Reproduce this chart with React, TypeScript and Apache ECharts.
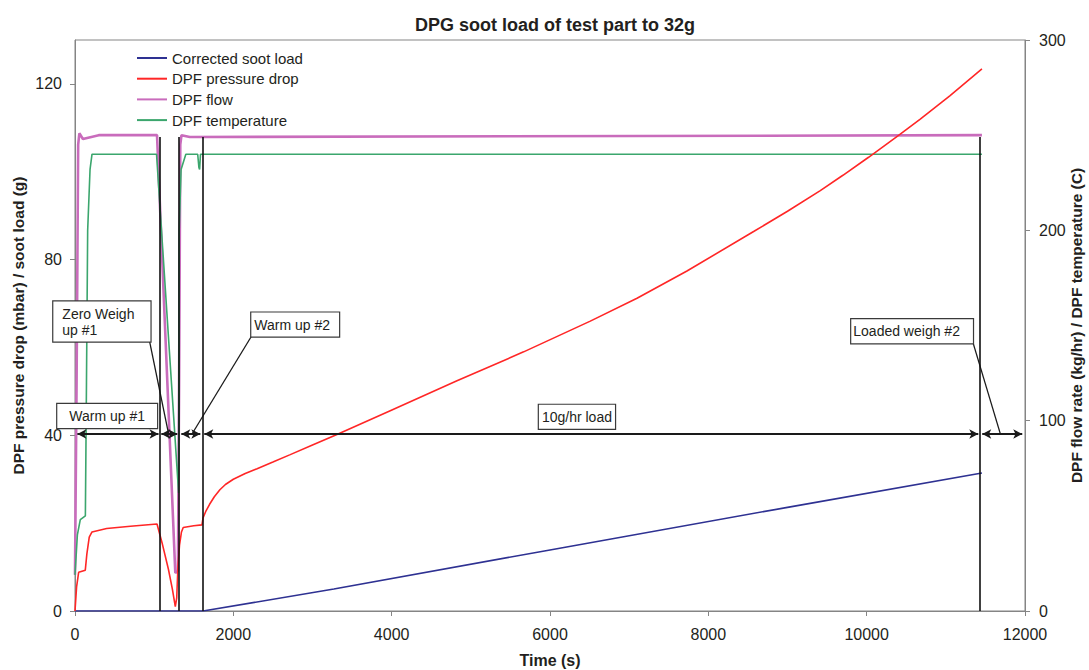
import React, { useEffect, useRef } from "react";
import * as echarts from "echarts";

const chartTitle = "DPG soot load of test part to 32g";
const xAxisName = "Time (s)";
const leftAxisName = "DPF pressure drop (mbar) / soot load (g)";
const rightAxisName = "DPF flow rate (kg/hr) / DPF temperature (C)";
const seriesNames = ["Corrected soot load", "DPF pressure drop", "DPF flow", "DPF temperature"];
const seriesColors = ["#2E3192", "#FF2626", "#C96CBC", "#3BA66D"];

// [time (s), value]
const sootLoad: [number, number][] = [
  [0, 0], [1617, 0], [3270, 5.0], [6000, 13.9], [9000, 23.6], [11456, 31.4],
];
const pressureDrop: [number, number][] = [
  [0, 0], [20, 5.5], [46, 8.8], [130, 9.3], [150, 13], [180, 16.8], [215, 18], [400, 18.8],
  [700, 19.3], [1036, 19.8], [1100, 15.5], [1180, 9.5], [1230, 5], [1267, 1], [1285, 3],
  [1300, 10], [1320, 15], [1345, 18], [1367, 19], [1500, 19.4], [1604, 19.6],
  [1617, 21.2], [1650, 22.6], [1700, 24.3], [1760, 26.0], [1830, 27.6], [1900, 28.8],
  [2000, 30.0], [2150, 31.3], [2300, 32.4], [2500, 33.9], [2719, 35.6], [3000, 37.8],
  [3309, 40.2], [3982, 45.6], [4825, 52.4], [5667, 59.0], [6509, 66.0], [7099, 71.2],
  [7730, 77.4], [8572, 86.4], [9000, 91.0], [9414, 95.7], [9700, 99.2], [10024, 103.3],
  [10403, 108.3], [10677, 112.0], [11050, 117.3], [11456, 123.4],
];
const dpfFlow: [number, number][] = [
  [0, 19], [20, 120], [40, 245], [55, 251], [100, 248], [300, 250], [1036, 250],
  [1267, 20], [1300, 21], [1315, 120], [1330, 245], [1345, 250], [1450, 249], [11456, 250],
];
const dpfTemp: [number, number][] = [
  [0, 19], [30, 40], [67, 48], [131, 50], [145, 120], [160, 200], [190, 232], [215, 240],
  [1030, 240], [1309, 62], [1312, 62], [1316, 200], [1340, 232], [1400, 240], [1550, 240],
  [1565, 233], [1574, 232], [1585, 240], [11456, 240],
];

const xTicks = { min: 0, max: 12000, interval: 2000 };
const leftTicks = { min: 0, max: 130, interval: 40 };
const rightTicks = { min: 0, max: 300, interval: 100 };

// phase boundary markers (time), drawn up to flow level on right axis
const phaseMarkerTimes = [1065, 1311, 1614, 11426];
const phaseMarkerTop = 249;

// double-headed phase arrows on left axis level
const arrowLevel = 40.3;
const phaseArrows: [number, number][] = [
  [30, 1055], [1090, 1292], [1343, 1583], [1633, 11410], [11460, 11965],
];

// annotation boxes: text, centre (time, left-axis value), box width, padding
const annotationTexts = ["Warm up #1", "Zero Weigh\nup #1", "Warm up #2", "10g/hr load", "Loaded weigh #2"];
const annotationAnchors: [number, number][] = [
  [408, 44.4], [339, 65.9], [2783, 65.2], [6340, 44.2], [10576, 63.7],
];
const annotationWidths = [100, 97, 88, 76, 122];
const annotationPadding = [
  [4, 12, 4, 12], [4, 16, 4, 9], [4, 9, 4, 3], [4, 3, 4, 3], [4, 13, 4, 2],
];
const leaderLines: [number, number][][] = [
  [[942, 61.4], [1182, 40.3]],
  [[2227, 62.5], [1478, 40.3]],
  [[11343, 61.1], [11686, 40.5]],
];

const FONT = "'Liberation Sans', Arial, sans-serif";
const TEXT = "#231F20";
const AXIS = "#858585";

export default function App() {
  const ref = useRef<HTMLDivElement>(null);
  useEffect(() => {
    document.body.style.margin = "0";
    const chart = echarts.init(ref.current!, null, { renderer: "svg" });
    const option: any = {
      animation: false,
      textStyle: { fontFamily: FONT },
      title: {
        text: chartTitle,
        left: 550,
        textAlign: "center",
        top: 11,
        textStyle: { fontFamily: FONT, fontSize: 18, fontWeight: "bold", color: TEXT },
      },
      legend: {
        orient: "vertical",
        left: 137,
        top: 50,
        padding: 0,
        itemGap: 4.7,
        itemWidth: 30,
        itemHeight: 2,
        icon: "rect",
        data: seriesNames,
        selectedMode: false,
        textStyle: { fontFamily: FONT, fontSize: 15, lineHeight: 16, color: TEXT },
      },
      grid: {
        left: 75,
        right: 64,
        top: 40,
        bottom: 59,
        show: true,
        borderColor: AXIS,
        borderWidth: 1,
        backgroundColor: "transparent",
        containLabel: false,
        outerBoundsMode: "none",
      },
      xAxis: {
        type: "value",
        ...xTicks,
        name: xAxisName,
        nameLocation: "middle",
        nameGap: 41,
        nameMoveOverlap: false,
        nameTextStyle: { fontFamily: FONT, fontSize: 16, fontWeight: "bold", color: TEXT },
        axisLine: { show: true, onZero: false, lineStyle: { color: AXIS, width: 1 } },
        axisTick: { show: true, length: 5, lineStyle: { color: AXIS } },
        axisLabel: {
          fontFamily: FONT, fontSize: 16, color: TEXT, margin: 15,
          formatter: (v: number) => String(v),
        },
        splitLine: { show: false },
      },
      yAxis: [
        {
          type: "value",
          ...leftTicks,
          position: "left",
          name: leftAxisName,
          nameLocation: "middle",
          nameRotate: 90,
          nameGap: 49,
          nameMoveOverlap: false,
          nameTextStyle: { fontFamily: FONT, fontSize: 15.5, fontWeight: "bold", color: TEXT },
          axisLine: { show: true, lineStyle: { color: AXIS, width: 1 } },
          axisTick: { show: true, length: 5, lineStyle: { color: AXIS } },
          axisLabel: {
            fontFamily: FONT, fontSize: 16, color: TEXT, margin: 13, showMaxLabel: false,
            formatter: (v: number) => String(v),
          },
          splitLine: { show: false },
        },
        {
          type: "value",
          ...rightTicks,
          position: "right",
          name: rightAxisName,
          nameLocation: "middle",
          nameRotate: 90,
          nameGap: 43,
          nameMoveOverlap: false,
          nameTextStyle: { fontFamily: FONT, fontSize: 15.5, fontWeight: "bold", color: TEXT },
          axisLine: { show: true, lineStyle: { color: AXIS, width: 1 } },
          axisTick: { show: true, length: 5, lineStyle: { color: AXIS } },
          axisLabel: {
            fontFamily: FONT, fontSize: 16, color: TEXT, margin: 14,
            formatter: (v: number) => String(v),
          },
          splitLine: { show: false },
        },
      ],
      series: [
        {
          name: seriesNames[0],
          type: "line",
          yAxisIndex: 0,
          data: sootLoad,
          showSymbol: false,
          symbol: "none",
          color: seriesColors[0],
          lineStyle: { color: seriesColors[0], width: 1.6 },
          z: 3,
          silent: true,
          markLine: {
            silent: true,
            symbol: ["arrow", "arrow"],
            symbolSize: [7, 9],
            label: { show: false },
            lineStyle: { color: "#1A1A1A", width: 2, type: "solid" },
            data: phaseArrows.map(([a, b]) => [
              { coord: [a, arrowLevel] },
              { coord: [b, arrowLevel] },
            ]),
          },
        },
        {
          name: seriesNames[1],
          type: "line",
          yAxisIndex: 0,
          data: pressureDrop,
          showSymbol: false,
          symbol: "none",
          color: seriesColors[1],
          lineStyle: { color: seriesColors[1], width: 1.6 },
          z: 4,
          silent: true,
          markLine: {
            silent: true,
            symbol: ["none", "none"],
            label: { show: false },
            lineStyle: { color: "#1A1A1A", width: 1.3, type: "solid" },
            data: leaderLines.map(([p, q]) => [{ coord: p }, { coord: q }]),
          },
          markPoint: {
            silent: true,
            z: 20,
            symbol: "rect",
            symbolSize: 1,
            itemStyle: { color: "rgba(0,0,0,0)" },
            data: annotationTexts.map((t, i) => ({
              coord: annotationAnchors[i],
              value: t,
              label: {
                show: true,
                position: "inside",
                formatter: t,
                fontFamily: FONT,
                fontSize: 14,
                lineHeight: 16,
                color: TEXT,
                align: "left",
                verticalAlign: "middle",
                offset: [-annotationWidths[i] / 2, 0],
                backgroundColor: "#FFFFFF",
                borderColor: "#3A3A3A",
                borderWidth: 1.2,
                padding: annotationPadding[i],
              },
            })),
          },
        },
        {
          name: seriesNames[2],
          type: "line",
          yAxisIndex: 1,
          data: dpfFlow,
          showSymbol: false,
          symbol: "none",
          color: seriesColors[2],
          lineStyle: { color: seriesColors[2], width: 2.6 },
          z: 2,
          silent: true,
          markLine: {
            silent: true,
            symbol: ["none", "none"],
            label: { show: false },
            lineStyle: { color: "#111111", width: 1.6, type: "solid" },
            data: phaseMarkerTimes.map((t) => [
              { coord: [t, 0] },
              { coord: [t, phaseMarkerTop] },
            ]),
          },
        },
        {
          name: seriesNames[3],
          type: "line",
          yAxisIndex: 1,
          data: dpfTemp,
          showSymbol: false,
          symbol: "none",
          color: seriesColors[3],
          lineStyle: { color: seriesColors[3], width: 1.6 },
          z: 2,
          silent: true,
        },
      ],
    };
    chart.setOption(option);
    return () => chart.dispose();
  }, []);
  return <div ref={ref} style={{ width: 1089, height: 670 }} />;
}
